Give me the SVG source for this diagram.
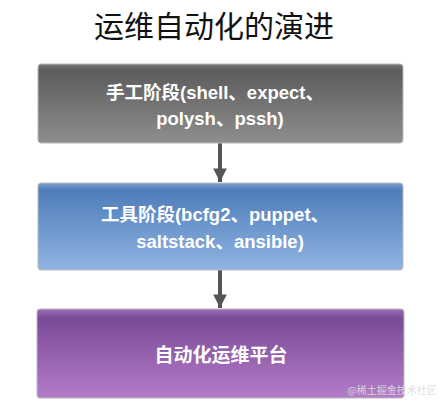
<svg xmlns="http://www.w3.org/2000/svg" width="439" height="406" viewBox="0 0 439 406">
<defs>
<linearGradient id="g1" x1="0" y1="0" x2="0" y2="1"><stop offset="0" stop-color="#7a7a7a"/><stop offset="0.08" stop-color="#5c5c5c"/><stop offset="1" stop-color="#8e8e8e"/></linearGradient>
<linearGradient id="g2" x1="0" y1="0" x2="0" y2="1"><stop offset="0" stop-color="#7aa0d4"/><stop offset="0.08" stop-color="#4f7dba"/><stop offset="1" stop-color="#8fb4e2"/></linearGradient>
<linearGradient id="g3" x1="0" y1="0" x2="0" y2="1"><stop offset="0" stop-color="#a070b8"/><stop offset="0.1" stop-color="#7a4a96"/><stop offset="1" stop-color="#b47cc8"/></linearGradient>
<marker id="ah" viewBox="0 0 10 10" refX="10" refY="5" markerWidth="3.4" markerHeight="3.4" orient="auto"><path d="M0,0 L10,5 L0,10 Z" fill="#555"/></marker>
</defs>
<style>
.box{stroke:#bbb;stroke-width:1}
.t{font-family:"Liberation Sans","Noto Sans CJK SC",sans-serif;font-weight:bold;fill:#fff;text-anchor:middle}
.c{stroke:#555;stroke-width:4;fill:none}
</style>
<rect width="439" height="406" fill="#fff"/>
<text x="214" y="37" font-family="'Noto Sans CJK SC',sans-serif" font-size="30" text-anchor="middle" fill="#111">运维自动化的演进</text>
<g id="connectors">
<line class="c" x1="220" y1="143" x2="220" y2="182" marker-end="url(#ah)"/>
<line class="c" x1="220" y1="270" x2="220" y2="308" marker-end="url(#ah)"/>
</g>
<g id="n1">
<rect class="box" x="38" y="64" width="365" height="79" rx="3" fill="url(#g1)"/>
<text class="t" x="215" y="99" font-size="18.5">手工阶段(shell、expect、</text>
<text class="t" x="220" y="125" font-size="18.5">polysh、pssh)</text>
</g>
<g id="n2">
<rect class="box" x="38" y="183" width="365" height="87" rx="3" fill="url(#g2)"/>
<text class="t" x="215" y="221" font-size="18.5">工具阶段(bcfg2、puppet、</text>
<text class="t" x="220" y="248" font-size="18.5">saltstack、ansible)</text>
</g>
<g id="n3">
<rect class="box" x="37" y="309" width="367" height="89" rx="3" fill="url(#g3)"/>
<text class="t" x="221" y="362" font-size="19">自动化运维平台</text>
</g>
<text x="392" y="394" font-family="'Noto Sans CJK SC',sans-serif" font-size="10" text-anchor="middle" fill="#ddd" opacity="0.9">@稀土掘金技术社区</text>
</svg>
